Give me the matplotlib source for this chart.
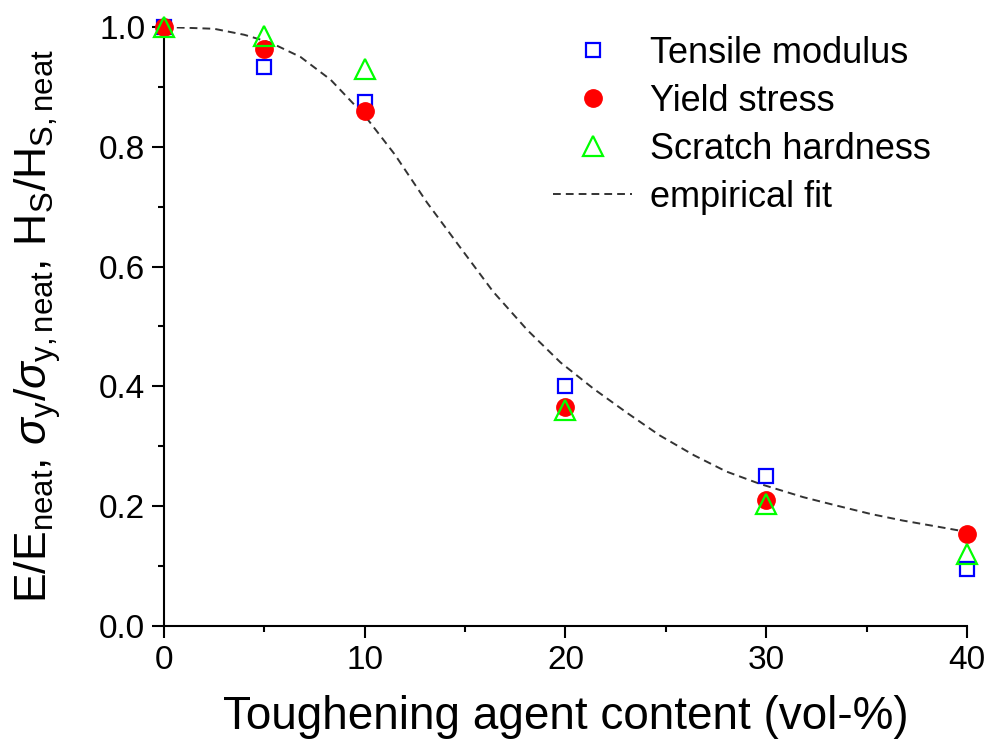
import matplotlib
matplotlib.use("Agg")
import matplotlib.pyplot as plt

# normalised properties vs. toughening agent content
content = [0, 5, 10, 20, 30, 40]
tensile_modulus = [1.0, 0.933, 0.875, 0.401, 0.250, 0.095]
yield_stress = [1.0, 0.963, 0.860, 0.366, 0.210, 0.154]
scratch_hardness = [1.0, 0.985, 0.930, 0.360, 0.204, 0.120]

# empirical fit curve
fit_x = [0, 2.5, 4, 5.3, 6.8, 8.3, 10, 11.5, 13.1, 14.8, 16.4, 18.1, 19.75,
         21.4, 23.1, 24.7, 26.4, 28, 29.7, 31.85, 33.5, 35.2, 36.8, 38.5, 40]
fit_y = [1.0, 0.997, 0.987, 0.974, 0.950, 0.912, 0.852, 0.787, 0.707, 0.630,
         0.558, 0.494, 0.440, 0.396, 0.355, 0.318, 0.285, 0.258, 0.237, 0.215,
         0.201, 0.187, 0.176, 0.166, 0.157]

plt.rcParams['font.family'] = ['Liberation Sans', 'DejaVu Sans']
plt.rcParams['mathtext.fontset'] = 'custom'
plt.rcParams['mathtext.rm'] = 'Liberation Sans'
plt.rcParams['mathtext.it'] = 'Liberation Sans:italic'

fig = plt.figure(figsize=(9.92, 7.56), dpi=100)
ax = fig.add_axes([0.1653, 0.1720, 0.8095, 0.7923])

ax.plot(fit_x, fit_y, linestyle=(0, (4, 2.6)), color='#333333', linewidth=1.4,
        label='empirical fit', zorder=2)
ax.plot(content, tensile_modulus, linestyle='none', marker='s', markersize=10.5,
        markerfacecolor='none', markeredgecolor='#0000ff', markeredgewidth=1.6,
        label='Tensile modulus', clip_on=False, zorder=3)
ax.plot(content, yield_stress, linestyle='none', marker='o', markersize=12.5,
        markerfacecolor='#ff0000', markeredgecolor='#ff0000',
        label='Yield stress', clip_on=False, zorder=4)
ax.plot(content, scratch_hardness, linestyle='none', marker='^', markersize=14,
        markerfacecolor='none', markeredgecolor='#00ff00', markeredgewidth=1.6,
        label='Scratch hardness', clip_on=False, zorder=5)

ax.set_xlim(0, 40)
ax.set_ylim(0, 1.0)
ax.set_xticks([0, 10, 20, 30, 40])
ax.set_xticks([5, 15, 25, 35], minor=True)
ax.set_yticks([0.0, 0.2, 0.4, 0.6, 0.8, 1.0])
ax.set_yticks([0.1, 0.3, 0.5, 0.7, 0.9], minor=True)
ax.set_yticklabels(['0.0', '0.2', '0.4', '0.6', '0.8', '1.0'])

for side in ['top', 'right']:
    ax.spines[side].set_visible(False)
for side in ['left', 'bottom']:
    ax.spines[side].set_linewidth(1.5)

ax.tick_params(which='major', direction='out', length=8.5, width=1.5,
               labelsize=24, pad=5)
ax.tick_params(which='minor', direction='out', length=4.5, width=1.5)

ax.set_xlabel('Toughening agent content (vol-%)', fontsize=33, labelpad=14)
ax.set_ylabel(r'E/E$_{\rm neat}$, $\sigma_{\rm y}$/$\sigma_{\rm y,neat}$, '
              r'H$_{\rm S}$/H$_{\rm S,neat}$', fontsize=32, labelpad=26)

handles, labels = ax.get_legend_handles_labels()
order = [1, 2, 3, 0]
ax.legend([handles[i] for i in order], [labels[i] for i in order],
          loc='upper left', bbox_to_anchor=(553 / 992, 1 - 36 / 756),
          bbox_transform=fig.transFigure, frameon=False,
          fontsize=26, handlelength=2.2, handletextpad=0.5, labelspacing=0.36,
          borderpad=0, borderaxespad=0)

fig.savefig('out.png', dpi=100)
